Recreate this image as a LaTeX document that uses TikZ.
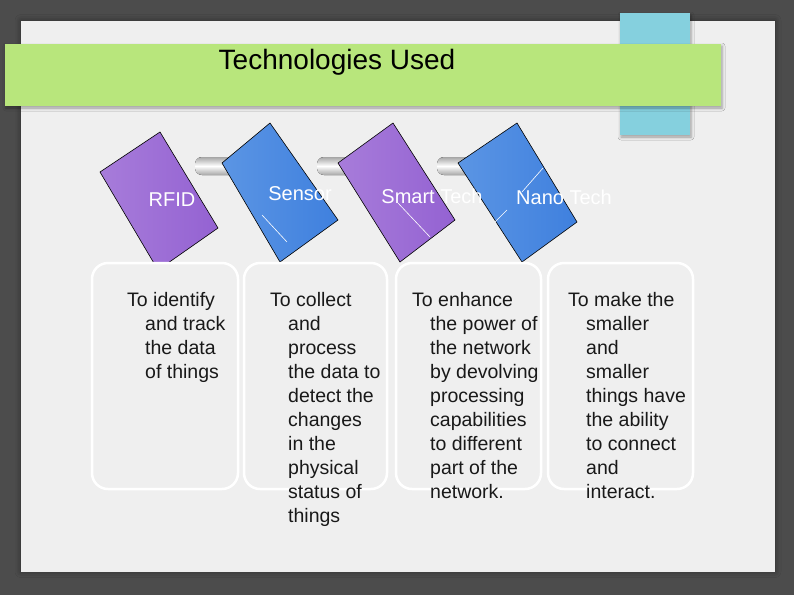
\documentclass[tikz,border=0pt]{standalone}
\usepackage{fontspec}
\setmainfont{Liberation Sans}
\usetikzlibrary{shadows.blur}
\definecolor{bgdark}{HTML}{4C4C4C}
\definecolor{slide}{HTML}{EFEFEF}
\definecolor{bannergreen}{HTML}{B8E67C}
\definecolor{tabcyan}{HTML}{85D0DE}
\definecolor{cardpurple}{HTML}{9462D2}
\definecolor{cardpurpleL}{HTML}{A77CDA}
\definecolor{cardblue}{HTML}{3F80DE}
\definecolor{cardblueL}{HTML}{5B95E4}
\tikzset{
  card/.style={draw=black, line width=0.6pt},
  purplecard/.style={card, left color=cardpurpleL, right color=cardpurple},
  bluecard/.style={card, left color=cardblueL, right color=cardblue},
  cardlabel/.style={text=white, font=\fontsize{20}{22}\selectfont, inner sep=0pt},
  descbox/.style={draw=white, line width=2.5pt, rounded corners=16pt, fill=slide},
  desc/.style={align=left, anchor=north west, inner sep=0pt, text=black!90,
    font=\fontsize{19.5}{24}\selectfont},
  pipe/.style={top color=gray!70, bottom color=gray!70, middle color=white, draw=none, rounded corners=7pt},
  sheen/.style={draw=white, line width=0.6pt},
  softshadow/.style={blur shadow={shadow xshift=1pt, shadow yshift=-2pt, shadow blur radius=3pt, shadow opacity=35}}
}
\begin{document}
\begin{tikzpicture}[x=1pt,y=-1pt]
\useasboundingbox (0,0) rectangle (794,595);
\fill[bgdark] (0,0) rectangle (794,595);
\node[inner sep=0pt, outer sep=0pt, minimum width=754pt, minimum height=551pt, fill=slide,
  blur shadow={shadow xshift=0pt, shadow yshift=0pt, shadow blur radius=6pt}] (slide) at (398,296) {};
\node[fill=tabcyan, minimum width=70pt, minimum height=122pt, inner sep=0pt, softshadow] (tab) at (655,74) {};
\node[fill=bannergreen, minimum width=716pt, minimum height=62pt, inner sep=0pt, softshadow] (banner) at (363,75) {};
\node[font=\fontsize{28}{30}\selectfont, text=black, inner sep=0pt] (title) at (337,62) {Technologies Used};
% pipes
\fill[pipe] (195,157) rectangle (255,175);
\fill[pipe] (317,157) rectangle (375,175);
\fill[pipe] (437,157) rectangle (495,175);
% cards
\path[purplecard] (160,132) -- (218,228) -- (158,270) -- (100,172) -- cycle;
\path[bluecard] (270,123) -- (338,220) -- (280,262) -- (222,163) -- cycle;
\path[purplecard] (393,123) -- (455,220) -- (400,262) -- (338,163) -- cycle;
\path[bluecard] (517,123) -- (577,222) -- (522,262) -- (458,163) -- cycle;
\draw[sheen] (262,215) -- (287,242);
\draw[sheen] (398,203) -- (430,237);
\draw[sheen] (543,168) -- (522,192);
\draw[sheen] (507,210) -- (495,222);
\node[cardlabel] (l1) at (172,200) {RFID};
\node[cardlabel] (l2) at (300,194) {Sensor};
\node[cardlabel] (l3) at (432,196) {Smart Tech};
\node[cardlabel] (l4) at (564,197) {Nano Tech};
% description boxes
\draw[descbox] (92,263) rectangle (238,489);
\draw[descbox] (244,263) rectangle (387,489);
\draw[descbox] (396,263) rectangle (541,489);
\draw[descbox] (548,263) rectangle (693,489);
\node[desc] (d1) at (145,292) {\hspace*{-18pt}To identify\\and track\\the data\\of things};
\node[desc] (d2) at (288,292) {\hspace*{-18pt}To collect\\and\\process\\the data to\\detect the\\changes\\in the\\physical\\status of\\things};
\node[desc] (d3) at (430,292) {\hspace*{-18pt}To enhance\\the power of\\the network\\by devolving\\processing\\capabilities\\to different\\part of the\\network.};
\node[desc] (d4) at (586,292) {\hspace*{-18pt}To make the\\smaller\\and\\smaller\\things have\\the ability\\to connect\\and\\interact.};
\end{tikzpicture}
\end{document}
